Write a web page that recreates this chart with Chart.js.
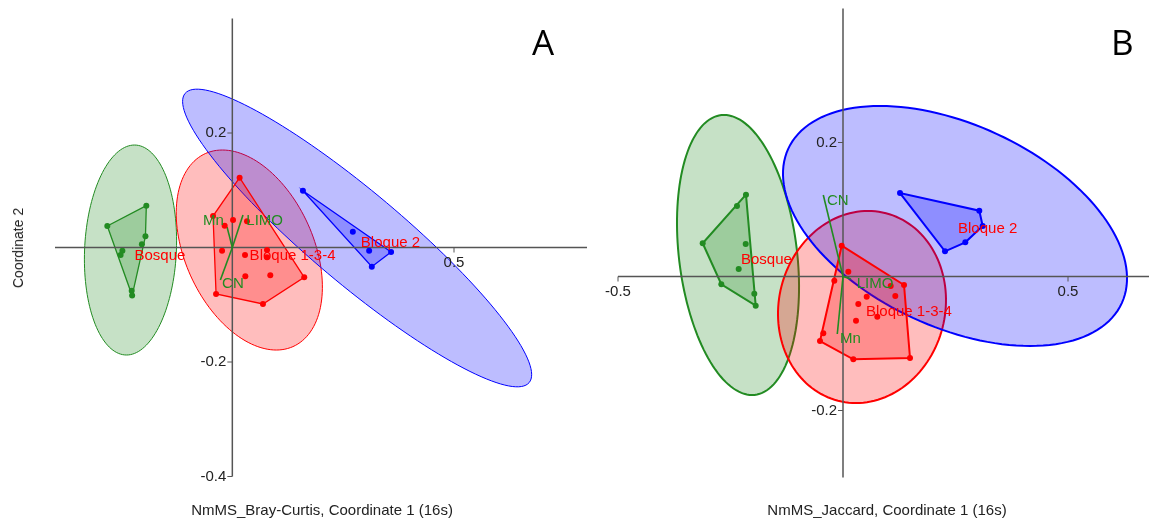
<!DOCTYPE html>
<html lang="es">
<head>
<meta charset="UTF-8">
<title>NMDS 16s</title>
<script src="https://cdn.jsdelivr.net/npm/chart.js"></script>
<style>
  body { margin:0; background:#fff; width:1153px; height:519px; position:relative; overflow:hidden;
         font-family:"Liberation Sans", Arial, sans-serif; }
  canvas { position:absolute; top:0; }
  #chartA { left:0; }
  #chartB { left:590px; }
  .txt { position:absolute; color:#222; white-space:nowrap; }
  .xtitle { top:501px; font-size:15px; transform:translateX(-50%); }
  .ytitle { left:18px; top:248px; font-size:14px; transform:translate(-50%,-50%) rotate(-90deg); }
  .letter { top:18px; font-family:"Open Sans", sans-serif; font-size:35px; color:#000; line-height:normal; }
</style>
</head>
<body>
<canvas id="chartA" width="590" height="519"></canvas>
<canvas id="chartB" width="563" height="519"></canvas>
<div class="txt ytitle">Coordinate 2</div>
<div class="txt xtitle" style="left:322px">NmMS_Bray-Curtis, Coordinate 1 (16s)</div>
<div class="txt xtitle" style="left:887px">NmMS_Jaccard, Coordinate 1 (16s)</div>
<div class="txt letter" style="left:532px">A</div>
<div class="txt letter" style="left:1111px">B</div>

<script>
const groupNames = ['Bosque', 'Bloque 1-3-4', 'Bloque 2'];
const groupColors = ['34,139,34', '255,0,0', '0,0,255'];
const vectorNames = ['Mn', 'LIMO', 'CN'];

// ---- Panel A: Bray-Curtis ----
const bosqueA = [[-0.194,0.073],[-0.282,0.0376],[-0.196,0.0196],[-0.204,0.0056],
                 [-0.248,-0.0056],[-0.252,-0.013],[-0.227,-0.0754],[-0.226,-0.084]];
const bloque134A = [[0.0164,0.1219],[-0.0435,0.055],[0.0016,0.048],[-0.0173,0.0381],
                    [0.0331,0.0458],[-0.0232,-0.0056],[0.0782,-0.0044],[0.0782,-0.0171],
                    [0.0286,-0.0131],[0.0293,-0.0503],[0.0856,-0.0486],[0.1622,-0.0521],
                    [-0.0367,-0.0812],[0.0691,-0.0987]];
const bloque2A = [[0.1592,0.0992],[0.2718,0.0276],[0.3086,-0.0056],[0.3581,-0.0079],[0.3146,-0.0335]];
// ellipse: centro x, centro y, semieje 1 (dx, dy), semieje 2 (dx, dy)
const ellipsesA = [[-0.2297,-0.0044, 0.009,0.1834, 0.1036,0],
                   [0.0383,-0.0044, -0.0608,0.1747, 0.1532,0],
                   [0.2815,0.0166, 0.388,-0.2526, -0.0666,-0.0615]];
const vectorsA = [[-0.012,0.036],[0.024,0.0568],[-0.027,-0.0568]];
const vectorLabelPosA = [[-0.066,0.0468],[0.0315,0.0468],[-0.0232,-0.0638]];
const groupLabelPosA = [[-0.2207,-0.0143],[0.039,-0.0143],[0.2899,0.0087]];
const xTicksA = [0.5];
const yTicksA = [0.2, -0.2, -0.4];

// ---- Panel B: Jaccard ----
const bosqueB = [[-0.2156,0.1221],[-0.2356,0.1052],[-0.3118,0.0496],[-0.2162,0.0485],
                 [-0.2318,0.0112],[-0.2704,-0.0116],[-0.1971,-0.0257],[-0.194,-0.0436]];
const bloque134B = [[-0.0029,0.046],[0.0118,0.0072],[-0.0193,-0.0063],[0.1356,-0.0127],
                    [0.106,-0.0142],[0.0527,-0.0301],[0.1162,-0.0291],[0.034,-0.041],
                    [0.0762,-0.06],[0.0289,-0.066],[-0.0438,-0.0848],[-0.0511,-0.0963],
                    [0.0229,-0.1236],[0.1489,-0.1216]];
const bloque2B = [[0.1267,0.1246],[0.3029,0.0982],[0.3104,0.0754],[0.2718,0.051],[0.2267,0.0376]];
const ellipsesB = [[-0.2333,0.0321, -0.0311,0.209, 0.132,0],
                   [0.0422,-0.0455, 0.0133,0.1433, 0.1862,0],
                   [0.2489,0.0754, -0.1667,0.1791, 0.344,0]];
const vectorsB = [[-0.0127,-0.0858],[0.0178,-0.0037],[-0.0438,0.1216]];
const vectorLabelPosB = [[-0.0067,-0.0933],[0.0304,-0.0112],[-0.0356,0.1131]];
const groupLabelPosB = [[-0.2267,0.0246],[0.0511,-0.053],[0.2556,0.0709]];
const xTicksB = [-0.5, 0.5];
const yTicksB = [0.2, -0.2];

function convexHull(pts) {
  const p = pts.slice().sort((a, b) => a[0] - b[0] || a[1] - b[1]);
  const cross = (o, a, b) => (a[0]-o[0])*(b[1]-o[1]) - (a[1]-o[1])*(b[0]-o[0]);
  const lower = [], upper = [];
  for (const q of p) {
    while (lower.length >= 2 && cross(lower[lower.length-2], lower[lower.length-1], q) <= 0) lower.pop();
    lower.push(q);
  }
  for (let i = p.length - 1; i >= 0; i--) {
    const q = p[i];
    while (upper.length >= 2 && cross(upper[upper.length-2], upper[upper.length-1], q) <= 0) upper.pop();
    upper.push(q);
  }
  upper.pop(); lower.pop();
  return lower.concat(upper);
}

function ordPlugin(panel) {
  return {
    id: 'ord',
    beforeDatasetsDraw(chart) {
      const { ctx, chartArea: a, scales: { x, y } } = chart;
      const X = v => x.getPixelForValue(v), Y = v => y.getPixelForValue(v);
      ctx.save();
      // elipses
      panel.ellipses.forEach((e, i) => {
        ctx.beginPath();
        for (let k = 0; k <= 144; k++) {
          const t = k / 144 * 2 * Math.PI;
          const px = X(e[0] + Math.cos(t) * e[2] + Math.sin(t) * e[4]);
          const py = Y(e[1] + Math.cos(t) * e[3] + Math.sin(t) * e[5]);
          k ? ctx.lineTo(px, py) : ctx.moveTo(px, py);
        }
        ctx.closePath();
        ctx.fillStyle = `rgba(${groupColors[i]},0.26)`;
        ctx.fill();
        ctx.lineWidth = panel.ellWidth;
        ctx.strokeStyle = `rgb(${groupColors[i]})`;
        ctx.stroke();
      });
      // envolventes
      panel.groups.forEach((g, i) => {
        const h = convexHull(g);
        ctx.beginPath();
        h.forEach((q, k) => k ? ctx.lineTo(X(q[0]), Y(q[1])) : ctx.moveTo(X(q[0]), Y(q[1])));
        ctx.closePath();
        ctx.fillStyle = `rgba(${groupColors[i]},0.25)`;
        ctx.fill();
        ctx.lineWidth = panel.hullWidth;
        ctx.strokeStyle = `rgb(${groupColors[i]})`;
        ctx.stroke();
      });
      // ejes por el origen
      const x0 = X(0), y0 = Y(0);
      ctx.strokeStyle = '#555';
      ctx.lineWidth = 1.5;
      ctx.beginPath();
      ctx.moveTo(a.left, y0); ctx.lineTo(a.right, y0);
      ctx.moveTo(x0, a.top); ctx.lineTo(x0, a.bottom);
      ctx.stroke();
      ctx.lineWidth = 1;
      ctx.fillStyle = '#222';
      ctx.font = '15px "Liberation Sans", Arial, sans-serif';
      ctx.textAlign = 'center'; ctx.textBaseline = 'top';
      panel.xTicks.forEach(v => {
        ctx.beginPath(); ctx.moveTo(X(v), y0); ctx.lineTo(X(v), y0 + 5); ctx.stroke();
        ctx.fillText(String(v), X(v), y0 + 8);
      });
      ctx.textAlign = 'right'; ctx.textBaseline = 'middle';
      panel.yTicks.forEach(v => {
        ctx.beginPath(); ctx.moveTo(x0 - 5, Y(v)); ctx.lineTo(x0, Y(v)); ctx.stroke();
        ctx.fillText(String(v), x0 - 6, Y(v));
      });
      // vectores
      ctx.strokeStyle = 'rgb(34,139,34)';
      ctx.lineWidth = 1.6;
      panel.vectors.forEach(v => {
        ctx.beginPath(); ctx.moveTo(x0, y0); ctx.lineTo(X(v[0]), Y(v[1])); ctx.stroke();
      });
      ctx.restore();
    },
    afterDatasetsDraw(chart) {
      const { ctx, scales: { x, y } } = chart;
      ctx.save();
      ctx.font = '15px "Liberation Sans", Arial, sans-serif';
      ctx.textAlign = 'left'; ctx.textBaseline = 'middle';
      ctx.fillStyle = 'rgb(34,139,34)';
      vectorNames.forEach((n, i) => {
        const p = panel.vectorLabels[i];
        ctx.fillText(n, x.getPixelForValue(p[0]), y.getPixelForValue(p[1]));
      });
      ctx.fillStyle = '#ff0000';
      groupNames.forEach((n, i) => {
        const p = panel.groupLabels[i];
        ctx.fillText(n, x.getPixelForValue(p[0]), y.getPixelForValue(p[1]));
      });
      ctx.restore();
    }
  };
}

function makeChart(id, panel) {
  return new Chart(document.getElementById(id), {
    type: 'scatter',
    data: {
      datasets: panel.groups.map((g, i) => ({
        label: groupNames[i],
        data: g.map(([px, py]) => ({ x: px, y: py })),
        backgroundColor: `rgb(${groupColors[i]})`,
        borderWidth: 0,
        pointRadius: 3,
        pointHoverRadius: 3
      }))
    },
    options: {
      responsive: false,
      animation: false,
      devicePixelRatio: 1,
      layout: { padding: panel.padding },
      plugins: { legend: { display: false }, tooltip: { enabled: false } },
      scales: {
        x: { type: 'linear', min: panel.xRange[0], max: panel.xRange[1], display: false },
        y: { type: 'linear', min: panel.yRange[0], max: panel.yRange[1], display: false }
      }
    },
    plugins: [ordPlugin(panel)]
  });
}

makeChart('chartA', {
  groups: [bosqueA, bloque134A, bloque2A],
  ellipses: ellipsesA, vectors: vectorsA,
  vectorLabels: vectorLabelPosA, groupLabels: groupLabelPosA,
  xTicks: xTicksA, yTicks: yTicksA,
  xRange: [-0.4, 0.8], yRange: [-0.4, 0.4],
  padding: { left: 55, right: 2, top: 18.5, bottom: 42.5 },
  ellWidth: 1, hullWidth: 1.3
});

makeChart('chartB', {
  groups: [bosqueB, bloque134B, bloque2B],
  ellipses: ellipsesB, vectors: vectorsB,
  vectorLabels: vectorLabelPosB, groupLabels: groupLabelPosB,
  xTicks: xTicksB, yTicks: yTicksB,
  xRange: [-0.5, 0.68], yRange: [-0.3, 0.4],
  padding: { left: 28, right: 4, top: 8.5, bottom: 41.5 },
  ellWidth: 2, hullWidth: 2
});
</script>
</body>
</html>
